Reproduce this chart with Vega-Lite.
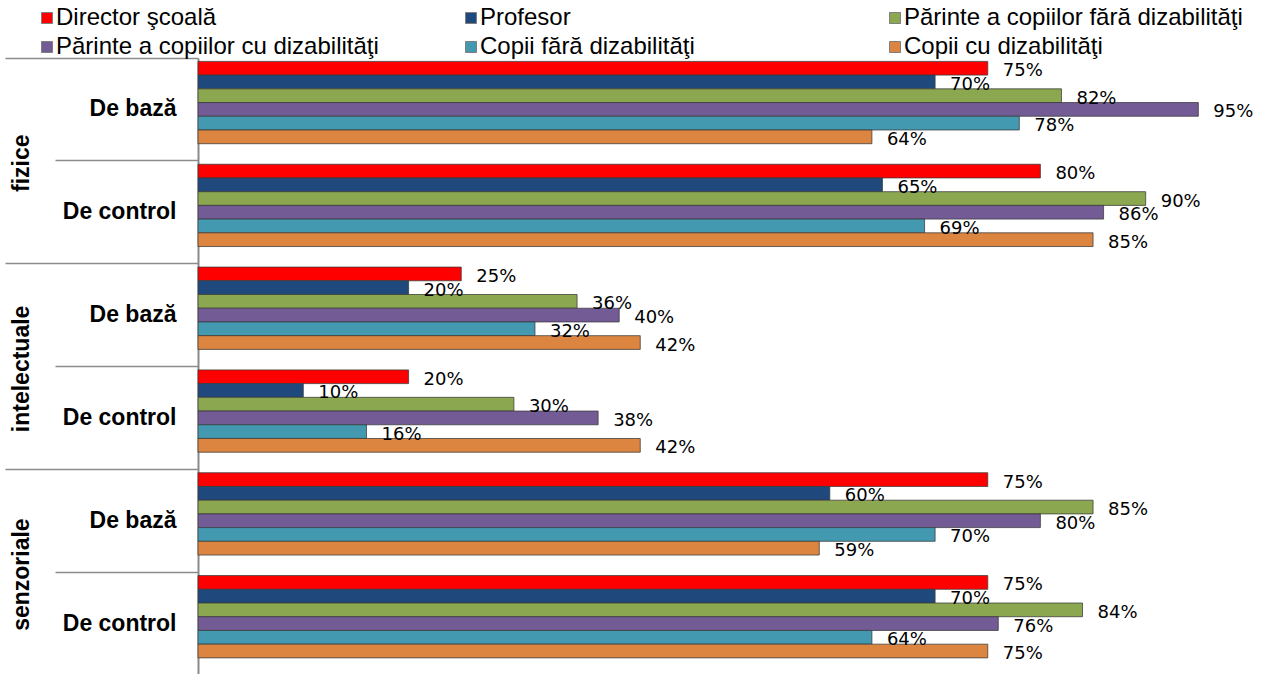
{
  "$schema": "https://vega.github.io/schema/vega-lite/v6.json",
  "width": 1053,
  "height": 617,
  "autosize": {"type": "none"},
  "padding": {"left": 198, "top": 58, "right": 14, "bottom": 0},
  "background": "white",
  "config": {"view": {"stroke": null}},
  "data": {
    "values": [
      {"g": "fizice|De bază", "series": "Director şcoală", "value": 0.75},
      {"g": "fizice|De bază", "series": "Profesor", "value": 0.70},
      {"g": "fizice|De bază", "series": "Părinte a copiilor fără dizabilităţi", "value": 0.82},
      {"g": "fizice|De bază", "series": "Părinte a copiilor cu dizabilităţi", "value": 0.95},
      {"g": "fizice|De bază", "series": "Copii fără dizabilităţi", "value": 0.78},
      {"g": "fizice|De bază", "series": "Copii cu dizabilităţi", "value": 0.64},
      {"g": "fizice|De control", "series": "Director şcoală", "value": 0.80},
      {"g": "fizice|De control", "series": "Profesor", "value": 0.65},
      {"g": "fizice|De control", "series": "Părinte a copiilor fără dizabilităţi", "value": 0.90},
      {"g": "fizice|De control", "series": "Părinte a copiilor cu dizabilităţi", "value": 0.86},
      {"g": "fizice|De control", "series": "Copii fără dizabilităţi", "value": 0.69},
      {"g": "fizice|De control", "series": "Copii cu dizabilităţi", "value": 0.85},
      {"g": "intelectuale|De bază", "series": "Director şcoală", "value": 0.25},
      {"g": "intelectuale|De bază", "series": "Profesor", "value": 0.20},
      {"g": "intelectuale|De bază", "series": "Părinte a copiilor fără dizabilităţi", "value": 0.36},
      {"g": "intelectuale|De bază", "series": "Părinte a copiilor cu dizabilităţi", "value": 0.40},
      {"g": "intelectuale|De bază", "series": "Copii fără dizabilităţi", "value": 0.32},
      {"g": "intelectuale|De bază", "series": "Copii cu dizabilităţi", "value": 0.42},
      {"g": "intelectuale|De control", "series": "Director şcoală", "value": 0.20},
      {"g": "intelectuale|De control", "series": "Profesor", "value": 0.10},
      {"g": "intelectuale|De control", "series": "Părinte a copiilor fără dizabilităţi", "value": 0.30},
      {"g": "intelectuale|De control", "series": "Părinte a copiilor cu dizabilităţi", "value": 0.38},
      {"g": "intelectuale|De control", "series": "Copii fără dizabilităţi", "value": 0.16},
      {"g": "intelectuale|De control", "series": "Copii cu dizabilităţi", "value": 0.42},
      {"g": "senzoriale|De bază", "series": "Director şcoală", "value": 0.75},
      {"g": "senzoriale|De bază", "series": "Profesor", "value": 0.60},
      {"g": "senzoriale|De bază", "series": "Părinte a copiilor fără dizabilităţi", "value": 0.85},
      {"g": "senzoriale|De bază", "series": "Părinte a copiilor cu dizabilităţi", "value": 0.80},
      {"g": "senzoriale|De bază", "series": "Copii fără dizabilităţi", "value": 0.70},
      {"g": "senzoriale|De bază", "series": "Copii cu dizabilităţi", "value": 0.59},
      {"g": "senzoriale|De control", "series": "Director şcoală", "value": 0.75},
      {"g": "senzoriale|De control", "series": "Profesor", "value": 0.70},
      {"g": "senzoriale|De control", "series": "Părinte a copiilor fără dizabilităţi", "value": 0.84},
      {"g": "senzoriale|De control", "series": "Părinte a copiilor cu dizabilităţi", "value": 0.76},
      {"g": "senzoriale|De control", "series": "Copii fără dizabilităţi", "value": 0.64},
      {"g": "senzoriale|De control", "series": "Copii cu dizabilităţi", "value": 0.75}
    ]
  },
  "encoding": {
    "y": {
      "field": "g",
      "type": "nominal",
      "sort": null,
      "scale": {"paddingInner": 0, "paddingOuter": 0}
    },
    "x": {
      "field": "value",
      "type": "quantitative",
      "scale": {"domain": [0, 1], "nice": false},
      "axis": null
    },
    "yOffset": {
      "field": "series",
      "type": "nominal",
      "scale": {
        "domain": ["Director şcoală", "Profesor", "Părinte a copiilor fără dizabilităţi", "Părinte a copiilor cu dizabilităţi", "Copii fără dizabilităţi", "Copii cu dizabilităţi", "_"],
        "paddingInner": 0,
        "paddingOuter": 0.248
      }
    }
  },
  "layer": [
    {
      "mark": {"type": "bar", "stroke": "#3a3a3a", "strokeWidth": 1, "strokeOpacity": 0.75},
      "encoding": {
        "y": {
          "field": "g",
          "type": "nominal",
          "sort": null,
          "axis": {
            "orient": "left",
            "title": null,
            "labelExpr": "split(datum.value,'|')[1]",
            "labelFont": "Liberation Sans",
            "labelFontWeight": "bold",
            "labelFontSize": 23,
            "labelColor": "black",
            "ticks": false,
            "labelPadding": 22,
            "domainColor": "#8a8a8a",
            "domainWidth": 2,
            "grid": false
          }
        },
        "color": {
          "field": "series",
          "type": "nominal",
          "scale": {
            "domain": ["Director şcoală", "Profesor", "Părinte a copiilor fără dizabilităţi", "Părinte a copiilor cu dizabilităţi", "Copii fără dizabilităţi", "Copii cu dizabilităţi"],
            "range": ["#FF0000", "#1F497D", "#8BA74F", "#735B95", "#4299B0", "#DB8540"]
          },
          "legend": {
            "orient": "none",
            "legendX": -163,
            "legendY": -52,
            "columns": 3,
            "direction": "horizontal",
            "title": null,
            "padding": 0,
            "symbolType": "square",
            "symbolSize": 121,
            "symbolStrokeColor": "#7f7f7f",
            "symbolStrokeWidth": 1,
            "labelFont": "Liberation Sans",
            "labelFontSize": 24,
            "labelColor": "black",
            "labelOffset": -3,
            "labelLimit": 600,
            "rowPadding": 5,
            "columnPadding": 64,
            "gridAlign": "all"
          }
        }
      }
    },
    {
      "mark": {"type": "text", "align": "left", "baseline": "middle", "dx": 15, "dy": 3, "font": "DejaVu Sans", "fontSize": 18, "color": "black"},
      "encoding": {
        "y": {
          "field": "g",
          "type": "nominal",
          "sort": null,
          "axis": {
            "orient": "left",
            "title": null,
            "bandPosition": 0,
            "domain": false,
            "grid": false,
            "tickColor": "#8c8c8c",
            "tickWidth": 1.5,
            "tickSize": {"condition": {"test": "indexof(datum.value,'De bază')>=0", "value": 193}, "value": 143},
            "labelExpr": "indexof(datum.value,'De control')>=0 ? split(datum.value,'|')[0] : ''",
            "labelAngle": 270,
            "labelAlign": "center",
            "labelBaseline": "alphabetic",
            "labelOffset": -49,
            "labelPadding": 27,
            "labelFont": "Liberation Sans",
            "labelFontWeight": "bold",
            "labelFontSize": 23,
            "labelColor": "black"
          }
        },
        "text": {"field": "value", "type": "quantitative", "format": ".0%"},
        "detail": {"field": "series"}
      }
    }
  ],
  "resolve": {"axis": {"y": "independent"}}
}
